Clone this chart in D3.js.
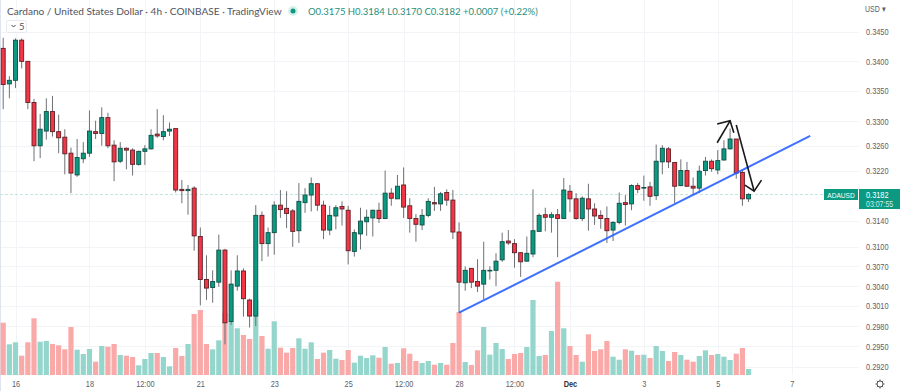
<!DOCTYPE html>
<html>
<head>
<meta charset="utf-8">
<script src="https://cdn.jsdelivr.net/npm/d3@7"></script>
<style>
  html, body { margin: 0; padding: 0; background: #fff; }
  svg { display: block; font-family: Lato, sans-serif; }
</style>
</head>
<body>
<script>
var opens = [.3422,.3362,.3368,.3436,.3400,.3331,.3260,.3284,.3316,.3283,
  .3274,.3248,.3213,.3239,.3248,.3283,.3280,.3306,.3261,.3235,
  .3256,.3253,.3230,.3251,.3255,.3279,.3275,.3284,.3288,.3190,
  .3188,.3192,.3116,.3050,.3038,.3046,.3095,.2987,.3040,.3063,
  .3019,.2995,.3149,.3105,.3122,.3165,.3160,.3156,.3125,.3169,
  .3181,.3199,.3165,.3126,.3148,.3163,.3157,.3093,.3120,.3139,
  .3145,.3157,.3144,.3184,.3175,.3197,.3164,.3144,.3134,.3149,
  .3169,.3167,.3185,.3173,.3123,.3045,.3067,.3047,.3043,.3063,
  .3064,.3080,.3109,.3105,.3091,.3078,.3089,.3124,.3150,.3146,
  .3150,.3144,.3187,.3175,.3144,.3175,.3159,.3149,.3144,.3126,
  .3138,.3169,.3167,.3196,.3192,.3194,.3180,.3234,.3255,.3233,
  .3196,.3220,.3195,.3192,.3220,.3235,.3221,.3237,.3255,.3271,
  .3217,.3175];
var closes = [.3361,.3368,.3436,.3400,.3331,.3260,.3287,.3316,.3283,.3273,
  .3247,.3216,.3241,.3248,.3284,.3280,.3306,.3260,.3234,.3256,
  .3253,.3230,.3251,.3255,.3277,.3276,.3283,.3287,.3189,.3188,
  .3190,.3117,.3050,.3037,.3047,.3095,.2985,.3043,.3063,.3021,
  .2995,.3149,.3105,.3122,.3165,.3158,.3152,.3124,.3171,.3181,
  .3199,.3165,.3126,.3149,.3161,.3159,.3094,.3122,.3140,.3146,
  .3157,.3144,.3184,.3176,.3195,.3162,.3144,.3135,.3149,.3171,
  .3167,.3183,.3173,.3123,.3046,.3064,.3046,.3040,.3064,.3064,
  .3078,.3108,.3106,.3091,.3077,.3090,.3125,.3149,.3146,.3150,
  .3144,.3189,.3175,.3144,.3176,.3159,.3148,.3144,.3125,.3138,
  .3168,.3166,.3196,.3190,.3193,.3179,.3235,.3256,.3234,.3195,
  .3220,.3195,.3192,.3219,.3235,.3223,.3236,.3255,.3271,.3216,
  .3175,.3182];
var highs = [.3440,.3375,.3439,.3439,.3400,.3337,.3312,.3338,.3342,.3311,
  .3287,.3257,.3271,.3266,.3318,.3301,.3323,.3314,.3269,.3266,
  .3257,.3256,.3252,.3261,.3287,.3320,.3310,.3298,.3288,.3205,
  .3197,.3195,.3130,.3087,.3064,.3119,.3097,.3064,.3087,.3067,
  .3021,.3165,.3155,.3130,.3171,.3189,.3187,.3159,.3200,.3192,
  .3209,.3199,.3172,.3164,.3165,.3171,.3164,.3127,.3161,.3158,
  .3158,.3169,.3220,.3192,.3213,.3225,.3176,.3151,.3159,.3176,
  .3194,.3186,.3190,.3189,.3138,.3070,.3067,.3081,.3108,.3070,
  .3090,.3122,.3126,.3112,.3091,.3116,.3190,.3152,.3161,.3154,
  .3159,.3208,.3197,.3184,.3179,.3199,.3168,.3157,.3163,.3140,
  .3185,.3181,.3198,.3200,.3212,.3202,.3262,.3261,.3258,.3233,
  .3238,.3234,.3209,.3228,.3242,.3238,.3253,.3269,.3288,.3271,
  .3221,.3184];
var lows = [.3320,.3338,.3355,.3388,.3320,.3235,.3240,.3270,.3275,.3248,
  .3214,.3184,.3210,.3232,.3242,.3271,.3260,.3256,.3203,.3232,
  .3222,.3212,.3228,.3229,.3254,.3273,.3269,.3276,.3185,.3168,
  .3150,.3094,.3011,.3019,.3015,.3039,.2953,.2982,.3033,.2994,
  .2978,.2980,.3078,.3085,.3088,.3145,.3129,.3100,.3106,.3153,
  .3155,.3156,.3112,.3118,.3127,.3133,.3073,.3085,.3096,.3117,
  .3116,.3137,.3143,.3164,.3175,.3145,.3122,.3108,.3126,.3146,
  .3156,.3156,.3164,.3112,.3000,.3033,.3037,.3031,.3020,.3050,
  .3040,.3077,.3103,.3068,.3054,.3077,.3084,.3123,.3124,.3122,
  .3084,.3143,.3154,.3142,.3140,.3125,.3134,.3128,.3106,.3109,
  .3135,.3133,.3157,.3184,.3172,.3164,.3173,.3214,.3224,.3168,
  .3195,.3194,.3181,.3184,.3212,.3218,.3214,.3236,.3254,.3207,
  .3164,.3170];
var volumes = [5230,3070,3270,1930,3270,5670,3330,3400,3100,2970,
  2570,4800,2530,2100,2600,1330,2900,2830,3100,2000,
  1930,1800,970,1600,2200,2200,1800,870,2700,1900,
  3100,6100,6500,3100,2570,3470,6200,5400,4670,4000,
  3600,7500,3900,2630,5370,2730,2230,2700,3670,2630,
  3270,1600,2230,2500,1630,1500,2500,1230,1930,1700,
  1970,1730,2800,1130,1200,2670,2130,1400,1200,1400,
  1030,1200,1030,3200,6300,1300,1000,2470,4800,2030,
  3200,2600,1600,2100,2200,2800,7500,1900,2000,4400,
  9330,4670,2900,2000,1330,4070,2400,2570,3400,1830,
  1530,2570,2430,2000,2030,1700,2900,2400,1400,2300,
  2000,1530,1330,1900,2470,2000,2100,1830,1500,2130,
  2700,600];

var priceTicks = [0.345,0.34,0.335,0.33,0.326,0.322,0.314,0.31,0.307,0.304,0.301,0.298,0.295,0.292];
var timeTickIndex = [2,14,23,32,44,56,65,74,83,92,104,116,128];
var timeTickLabels = ["16","18","12:00","21","23","25","12:00","28","12:00","Dec","3","5","7"];

var lastPrice = 0.3182;
// drawings on the chart, [candle index, price]
var trendLine = [[74,0.3000],[131,0.3276]];
var arrowUp = [[115.9,0.32649],[118,0.33008]];
var arrowUpHead = [[115.9,0.32954],[118,0.33008],[118.6,0.32812]];
var arrowDown = [[119,0.32938],[121.9,0.31873]];
var arrowDownHead = [[120.4,0.31968],[121.9,0.31873],[123.1,0.32048]];

var width = 900, height = 391, plotRight = 859, plotBottom = 375;
var green = "#0b9a81", red = "#f23645";
var narrow = '"Liberation Sans", sans-serif';

var x = d3.scaleLinear().domain([0,128]).range([3.2,791.7]);
var y = d3.scaleLog().domain([0.292,0.345]).range([367,32]);
var vol = d3.scaleLinear().domain([0,10000]).range([plotBottom,plotBottom-100]);

var svg = d3.select("body").append("svg")
    .attr("width", width)
    .attr("height", height);

// axis fonts in the reference are tall and narrow, so squeeze the glyphs sideways
function squeeze(sel) {
  sel.style("font-family", narrow).each(function(){
    d3.select(this)
      .attr("lengthAdjust", "spacingAndGlyphs")
      .attr("textLength", this.getComputedTextLength()*0.82);
  });
}

// grid
svg.append("g").selectAll("line")
    .data(priceTicks)
    .enter().append("line")
    .attr("x1", 0).attr("x2", plotRight)
    .attr("y1", function(d){ return Math.round(y(d))+0.5 })
    .attr("y2", function(d){ return Math.round(y(d))+0.5 })
    .attr("stroke", "#f3f4f7");
svg.append("g").selectAll("line")
    .data(timeTickIndex)
    .enter().append("line")
    .attr("y1", 0).attr("y2", plotBottom)
    .attr("x1", function(d){ return Math.round(x(d))+0.5 })
    .attr("x2", function(d){ return Math.round(x(d))+0.5 })
    .attr("stroke", "#f3f4f7");
svg.append("line")
    .attr("x1", 0.5).attr("x2", 0.5).attr("y1", 0).attr("y2", height)
    .attr("stroke", "#e0e3f0");

// volume
svg.append("g").selectAll("rect")
    .data(volumes)
    .enter().append("rect")
    .attr("x", function(d,i){ return x(i)-2.6 })
    .attr("y", function(d){ return vol(d) })
    .attr("width", 5.2)
    .attr("height", function(d){ return plotBottom-vol(d) })
    .attr("fill", function(d,i){ return closes[i]>=opens[i] ? "#94d5cc" : "#faa9a9" });

// last price line
svg.append("line")
    .attr("x1", 0).attr("x2", plotRight)
    .attr("y1", Math.round(y(lastPrice))+0.5).attr("y2", Math.round(y(lastPrice))+0.5)
    .attr("stroke", "#c4e6e0")
    .attr("stroke-dasharray", "3,2");

// candles
var candles = svg.append("g").selectAll("g")
    .data(opens)
    .enter().append("g");
candles.append("line")
    .attr("x1", function(d,i){ return x(i) })
    .attr("x2", function(d,i){ return x(i) })
    .attr("y1", function(d,i){ return y(highs[i]) })
    .attr("y2", function(d,i){ return y(lows[i]) })
    .attr("stroke", "#6f7176");
candles.append("rect")
    .attr("x", function(d,i){ return x(i)-2 })
    .attr("width", 4)
    .attr("y", function(d,i){ return y(Math.max(opens[i],closes[i])) })
    .attr("height", function(d,i){ return Math.abs(y(opens[i])-y(closes[i])) })
    .attr("fill", function(d,i){ return closes[i]>=opens[i] ? green : red })
    .attr("stroke", function(d,i){ return closes[i]>=opens[i] ? "#0e4f45" : "#5e1f27" })
    .attr("stroke-width", 0.9);

// trend line and arrows
var line = d3.line()
    .x(function(d){ return x(d[0]) })
    .y(function(d){ return y(d[1]) });
svg.append("path")
    .attr("d", line(trendLine))
    .attr("fill", "none")
    .attr("stroke", "#2962ff")
    .attr("stroke-width", 2)
    .attr("opacity", 0.9);
[arrowUp, arrowUpHead, arrowDown, arrowDownHead].forEach(function(a){
  svg.append("path")
    .attr("d", line(a))
    .attr("fill", "none")
    .attr("stroke", "#1a1a1a")
    .attr("stroke-width", 1.6);
});

// axes
var yAxis = d3.axisRight(y)
    .tickValues(priceTicks)
    .tickSize(0)
    .tickPadding(0)
    .tickFormat(d3.format(".4f"));
var yG = svg.append("g").attr("transform", "translate(866,0)").call(yAxis);
var xAxis = d3.axisBottom(x)
    .tickValues(timeTickIndex)
    .tickSize(0)
    .tickPadding(0)
    .tickFormat(function(d,i){ return timeTickLabels[i] });
var xG = svg.append("g").attr("transform", "translate(0,381)").call(xAxis);
[yG, xG].forEach(function(g){
  g.select(".domain").remove();
  g.selectAll("text")
    .attr("fill", "#5d606b")
    .style("font-family", narrow)
    .style("font-size", "9px");
});
xG.selectAll("text").filter(function(d,i){ return timeTickLabels[i]=="Dec" })
    .style("font-weight", 700).attr("fill", "#333");
squeeze(yG.selectAll("text"));
squeeze(xG.selectAll("text"));

svg.append("text").attr("x", 865).attr("y", 12)
    .attr("fill", "#5d606b").style("font-family", narrow).style("font-size", "8.5px")
    .text("USD \u25BE")
    .call(squeeze);

// title bar
svg.append("text").attr("x", 7).attr("y", 15)
    .attr("fill", "#50535e").style("font-size", "10.1px")
    .text("Cardano / United States Dollar \u00B7 4h \u00B7 COINBASE \u00B7 TradingView");
svg.append("circle").attr("cx", 293).attr("cy", 11).attr("r", 5).attr("fill", "#d8f0ec");
svg.append("circle").attr("cx", 293).attr("cy", 11).attr("r", 2.5).attr("fill", "#0b9a81");
svg.append("text").attr("x", 308).attr("y", 15)
    .attr("fill", "#1f8f7c").style("font-size", "9.5px")
    .text("O0.3175 H0.3184 L0.3170 C0.3182 +0.0007 (+0.22%)");

// collapse chip
svg.append("rect").attr("x", 6.5).attr("y", 20.5).attr("width", 20).attr("height", 12).attr("rx", 2)
    .attr("fill", "#fff").attr("stroke", "#e8e9ee");
svg.append("path").attr("d", "M11.5,25 L13.5,27 L15.5,25").attr("fill", "none").attr("stroke", "#444");
svg.append("text").attr("x", 19).attr("y", 30).attr("fill", "#555").style("font-size", "9.5px").text("5");

// last price tags
svg.append("rect").attr("x", 824).attr("y", 189).attr("width", 34).attr("height", 11).attr("fill", green);
svg.append("text").attr("x", 841).attr("y", 198).attr("text-anchor", "middle")
    .attr("fill", "#fff").style("font-size", "8px").text("ADAUSD").call(squeeze);
svg.append("rect").attr("x", 859).attr("y", 189).attr("width", 41).attr("height", 20).attr("fill", green);
svg.append("text").attr("x", 866).attr("y", 198)
    .attr("fill", "#fff").style("font-size", "9px").text("0.3182").call(squeeze);
svg.append("text").attr("x", 866).attr("y", 207)
    .attr("fill", "#cfeae5").style("font-size", "8.5px").text("03:07:55").call(squeeze);

// settings gear
svg.append("g").selectAll("line")
    .data(d3.range(8))
    .enter().append("line")
    .attr("x1", function(d){ return 880+3*Math.cos(d*Math.PI/4) })
    .attr("y1", function(d){ return 384+3*Math.sin(d*Math.PI/4) })
    .attr("x2", function(d){ return 880+4.5*Math.cos(d*Math.PI/4) })
    .attr("y2", function(d){ return 384+4.5*Math.sin(d*Math.PI/4) })
    .attr("stroke", "#555");
svg.append("circle").attr("cx", 880).attr("cy", 384).attr("r", 3)
    .attr("fill", "none").attr("stroke", "#555");
</script>
</body>
</html>
